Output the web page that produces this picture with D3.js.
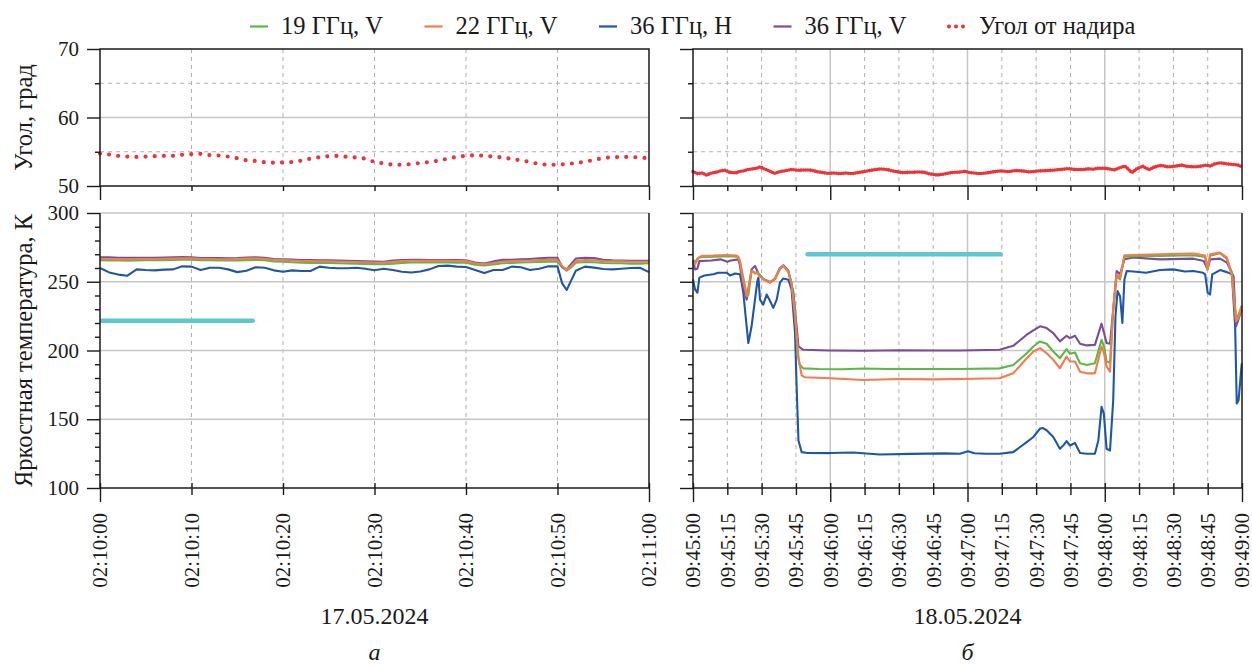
<!DOCTYPE html>
<html><head><meta charset="utf-8">
<script src="https://cdn.jsdelivr.net/npm/d3@7/dist/d3.min.js"></script>
<style>
body{margin:0;background:#fff;}
svg text{font-family:"Liberation Serif","Tinos","Times New Roman","Nimbus Roman","DejaVu Serif","Noto Serif",serif !important;fill:#1a1a1a;}
</style></head><body>
<svg id="chart" width="1252" height="666"></svg>
<script>
// ---------------- DATA ----------------
const seriesNames = ["19 ГГц, V", "22 ГГц, V", "36 ГГц, H", "36 ГГц, V"];
const angleName = "Угол от надира";
const yTitleAngle = "Угол, град";
const yTitleTemp = "Яркостная температура, К";
const dateLabels = ["17.05.2024", "18.05.2024"];
const panelLetters = ["а", "б"];
const angleTicks = [50, 60, 70];
const angleMinor = [55, 65];
const tempTicks = [100, 150, 200, 250, 300];
const tempMinor = [110,120,130,140,160,170,180,190,210,220,230,240,260,270,280,290];
const leftTickLabels = ["02:10:00","02:10:10","02:10:20","02:10:30","02:10:40","02:10:50","02:11:00"];
const rightTickLabels = ["09:45:00","09:45:15","09:45:30","09:45:45","09:46:00","09:46:15","09:46:30","09:46:45",
  "09:47:00","09:47:15","09:47:30","09:47:45","09:48:00","09:48:15","09:48:30","09:48:45","09:49:00"];

// left panel (seconds after 02:10:00)
const leftAngle = [54.73,54.6,54.4,54.3,54.25,54.3,54.35,54.4,54.4,54.55,54.65,54.7,54.5,54.45,54.3,54.05,53.75,53.65,53.45,53.4,
  53.45,53.5,53.7,54.0,54.2,54.35,54.4,54.25,54.15,54.0,53.5,53.3,53.1,53.1,53.2,53.35,53.5,53.7,54.0,54.25,
  54.4,54.5,54.4,54.3,54.15,53.95,53.75,53.5,53.2,53.1,53.1,53.2,53.35,53.55,53.8,54.1,54.2,54.25,54.25,54.15,54.05];
const leftT = [0,1,2,3,4,5,6,7,8,9,10,11,12,13,14,15,16,17,18,19,20,21,22,23,24,25,26,27,28,29,30,31,32,33,34,35,36,37,38,39,40,
  41,42,43,44,45,46,47,48,49,50,50.5,51,51.5,52,53,54,55,56,57,58,59,60];
const left19V = [265.6,265.5,265.4,265.4,265.5,265.6,265.6,265.7,265.8,266.0,266.0,265.7,265.6,265.5,265.4,265.5,265.7,265.9,265.6,264.8,
  264.5,264.2,263.8,263.7,263.6,263.6,263.4,263.3,263.1,262.9,262.8,262.7,263.2,263.7,264.0,264.1,264.0,264.0,264.0,263.9,263.8,
  262.4,261.8,262.5,263.4,263.7,264.0,264.2,264.4,264.6,264.5,260.5,258.0,260.5,263.8,264.4,264.2,263.6,263.5,263.4,263.2,263.2,263.4];
const left22V = [266.5,266.4,266.3,266.3,266.5,266.6,266.6,266.7,266.8,267.0,267.0,266.6,266.5,266.4,266.3,266.5,266.8,267.0,266.7,266.0,
  265.7,265.5,265.1,265.0,264.9,264.9,264.7,264.6,264.4,264.2,264.0,263.9,264.5,265.0,265.3,265.3,265.2,265.2,265.2,265.1,265.0,
  263.4,262.7,263.6,264.7,265.0,265.3,265.5,265.7,266.0,265.8,261.5,258.5,261.5,265.0,265.8,265.6,265.0,264.9,264.8,264.5,264.5,264.6];
const left36H = [260.0,256.8,255.2,254.4,259.0,258.5,258.3,258.8,259.0,261.2,261.0,258.5,260.2,260.2,259.0,257.0,258.0,260.5,260.2,258.3,
  257.3,258.3,257.8,257.8,261.0,260.2,259.8,259.8,260.2,259.5,258.3,259.5,258.6,257.3,256.7,257.5,259.0,261.5,261.7,261.0,260.7,
  258.5,256.3,258.5,258.5,261.0,260.5,258.5,259.5,261.2,261.2,249.0,244.0,251.0,258.0,261.0,260.3,259.3,259.0,259.5,260.0,260.2,257.0];
const left36V = [267.8,267.7,267.5,267.4,267.4,267.5,267.5,267.6,267.7,267.9,267.8,267.3,267.2,267.2,267.0,267.2,267.6,267.8,267.5,266.6,
  266.4,266.2,265.8,265.7,265.6,265.6,265.4,265.3,265.1,264.9,264.7,264.6,265.4,265.8,265.9,265.9,265.8,265.8,265.8,265.7,265.6,
  264.0,263.3,264.8,265.9,266.0,266.3,266.6,267.0,267.4,267.5,261.0,258.8,263.0,266.8,267.4,267.2,265.9,265.6,265.5,265.3,265.2,265.3];
const leftBarT = [0.2, 16.7];
const leftBarV = 221.7;

// right panel (seconds after 09:45:00)
const rightAngleT = [0,2,4,6,8,10,12,14,16,18.6,20,22,24,26,28,29.4,31,32,34,35.6,38,40,43,46,49.5,52,54,56,58.8,62,
  64,67,69.6,72,75,78,82,85,87,89,91.3,95,99,101,103,106.8,109,112,114,116,119,121,123,125.3,128,130,132,134.6,138,141,
  144,147,151,154.7,157,160,162,164,167,170.2,173,175,177,179.5,182,184.2,186,188.8,190.5,191.9,194,196.5,198,199.6,201.2,
  203,205,207,208.9,211,213.6,216,219.7,222,224.4,226,228,230.6,232,234,236,238.3,240];
const rightAngleV = [52.1,51.8,51.9,51.6,51.9,52.0,52.2,52.3,52.0,51.9,52.1,52.2,52.4,52.5,52.6,52.8,52.5,52.4,52.1,51.85,
  52.1,52.2,52.4,52.3,52.35,52.3,52.1,52.0,51.85,51.9,51.8,51.9,51.8,51.95,52.1,52.3,52.5,52.4,52.2,52.1,
  51.95,52.0,52.05,52.0,51.8,51.6,51.7,51.9,52.0,52.0,52.15,51.95,51.9,51.8,51.9,52.0,52.1,52.2,52.1,52.25,
  52.2,52.05,52.2,52.25,52.3,52.4,52.45,52.55,52.4,52.4,52.5,52.45,52.6,52.6,52.5,52.35,52.6,52.9,52.4,51.95,
  52.5,52.9,52.6,52.4,52.7,52.9,53.0,52.8,52.8,52.9,53.05,52.85,52.8,52.9,53.05,52.9,53.2,53.4,53.3,53.2,53.15,53.05,52.8];
const right19VT = [0,0.9,2,3.8,10,15,19.8,20.5,22,23.5,24.2,25.6,27.1,28.1,30.7,33.7,35.8,38,39.5,41.7,43.1,44.6,45.6,46.5,48.2,
  55,65,75,85,100,116.7,134,140,145.9,148.8,151.7,154.6,157.5,160.4,163.3,164.8,167,169.2,172.1,175.7,178.6,179.7,180.8,182.3,183.7,
  185.2,186.7,188.6,195,204.2,218.8,223.9,224.9,226.1,230.4,233.4,235.6,237.4,238.5,239.9];
const right19V = [266,264,267,268,268.2,268.5,268.3,265,253,240,240.5,258,256,257,252,249.5,252,259.5,261.5,257.5,249,228,200,190,187,
  186.6,186.4,186.9,186.6,186.5,186.6,187,189.5,198,202.9,206.6,204.9,199.3,194.4,201,197.6,198.5,190.7,189.5,190.7,207.8,202.9,192,191.2,229.8,
  254.1,251.7,268.3,268.8,268.8,269.3,268,259,269,270.7,266.5,256.6,222.4,226,232.7];
const right22VT = [0,0.9,2.5,3.8,8.9,14.7,19.1,20.5,22,23.5,25.6,28.1,30.7,33.7,35.8,38,39.5,41.7,43.1,44.6,46.1,47.5,49,60,74.5,
  90,105,116.7,134,140,145.9,148.8,151.7,154.6,157.5,160.4,163.3,164.8,167,169.2,172.1,175.7,178.6,179.7,180.8,182.3,183.7,185.2,186.7,188.6,
  204.2,218.8,223.9,224.9,226.1,230.4,233.4,235.6,237.4,238.5,239.9];
const right22V = [265.1,262.7,267.5,268.8,269,269.5,269,265,250,239.5,257.8,256,251.7,249.3,251.7,259,261.5,257,248,225,195,182,180.5,179.8,178.5,
  179.3,179,179.3,179.8,183.4,194.4,199.3,201.7,198,193.2,187.1,195.6,192,192,184.6,183.4,183.4,202.9,198,188.3,184.6,229.8,255.4,252.9,269.3,
  270,270.5,269,259,270,271.2,267.6,254,221.2,224,232.2];
const right36HT = [0,0.9,1.9,2.8,5,8.9,11,14.7,16.2,18.4,20.5,21.2,22,23,24.2,25.6,27.1,28.1,28.6,29.3,30.7,32.2,33.7,35.1,36.6,
  38,39.5,41.7,43.1,44.6,45.3,46.1,47.5,50,59.9,70,81.7,95,110,116.7,120.2,123,128,134,140,143,145.9,148.8,151.7,153,
  154.6,157.5,160.4,161.9,163.3,164.8,167,169.2,172.1,175.7,177.2,178.6,179.6,180.8,182.3,183.7,184.7,185.6,186.7,187.7,
  188.6,189.6,192.5,198,204.2,210,215,218.8,223,223.9,225,226,227,230.4,233.4,235.6,237,237.7,238.5,239.9];
const right36H = [251.7,244.4,242,253,254.5,255.4,256.5,256.6,254.5,256,255.4,250,242,225,205.4,217.6,237,250,253,237,
  233.4,240.7,236,231,237,249.3,252.4,251.5,244.4,212.7,173.7,134.6,126.1,125.5,125.4,125.8,124.4,124.8,125.2,124.9,
  126.8,125.3,124.9,124.9,126.1,129.8,133.4,137.1,143.2,143.6,142,137.1,128.5,131,134.1,130.9,132.7,125.4,124.9,124.9,
  134.6,159,154.1,128.5,127.3,163.9,224.9,243.2,239.5,220,251.7,257.8,257.5,256.5,258.5,259,257.5,257.8,256.5,255.4,
  242,240.7,255.4,258.5,257,255.4,217.6,161.5,163.9,190.7];
const right36VT = [0,0.9,1.9,2.8,8,12,15,16.5,19.8,20.5,22,23.5,25.6,27.1,28.6,30.7,33.7,35.8,38,39.5,41.7,43.9,46.1,48.2,60,
  75,90,105,116.7,134,140,145.9,148.8,151.7,154.6,157.5,160.4,163.3,164.8,167,169.2,172.1,175.7,178.6,179.7,180.8,182.3,183.7,185.2,186.7,
  188.6,192.5,204.2,218.8,223.3,224.9,226.1,230.4,233.4,234.8,236.3,237.4,239.9];
const right36V = [265.1,259,259.5,265,265.5,266.3,264.5,265.5,266.3,262,245,237,259,261.5,256,252,249.8,252,260,262,258,242,203,200.5,200,
  199.8,200.2,200,200,200.5,203.4,211.5,214.6,217.6,216.3,212.7,206.6,210.7,209,210.7,204.9,203.7,204.1,219.5,212.7,205.4,204.9,229.8,257.8,255.4,
  266.3,267.6,266.3,266.8,265.1,259,266.3,266.8,263.9,259,254.1,217.6,229.8];
const rightBarT = [50.1, 134.5];
const rightBarV = 270;

// ---------------- DRAWING ----------------
const FONT = '"Liberation Serif","Tinos","Times New Roman","Nimbus Roman","DejaVu Serif","Noto Serif",serif';
const INK = "#1a1a1a";
const C = {g:"#5bb946", o:"#f47b4c", b:"#1f57a7", p:"#7a4c9f", r:"#ee3237", c:"#5ec6d5"};
const GRID_S = "#c6c6c6", GRID_D = "#b0b0b0";

const svg = d3.select("#chart");
const PL = {x0:100, x1:649}, PR = {x0:693, x1:1242};
const TOP = {y0:49, y1:186}, BOT = {y0:213, y1:488};

const xL = d3.scaleLinear().domain([0,60]).range([PL.x0, PL.x1]);
const xR = d3.scaleLinear().domain([0,240]).range([PR.x0, PR.x1]);
const yA = d3.scaleLinear().domain([50,70]).range([TOP.y1, TOP.y0]);
const yT = d3.scaleLinear().domain([100,300]).range([BOT.y1, BOT.y0]);

const leftLabTicks = d3.range(0, 61, 10);
const rightLabTicks = d3.range(0, 241, 15);
const leftMajor = [0, 60], rightMajor = [0, 60, 120, 180, 240];
const leftMinorX = leftLabTicks.filter(d => !leftMajor.includes(d));
const rightMinorX = rightLabTicks.filter(d => !rightMajor.includes(d));

function hline(g, y, x0, x1, stroke, w, dash) {
  g.append("line").attr("x1", x0).attr("x2", x1).attr("y1", y).attr("y2", y)
    .attr("stroke", stroke).attr("stroke-width", w).attr("stroke-dasharray", dash || null);
}
function vline(g, x, y0, y1, stroke, w, dash) {
  g.append("line").attr("x1", x).attr("x2", x).attr("y1", y0).attr("y2", y1)
    .attr("stroke", stroke).attr("stroke-width", w).attr("stroke-dasharray", dash || null);
}

function drawGrid(g, x, y, P, Y, vSolid, vDash, hSolid, hDash) {
  vDash.forEach(d => vline(g, x(d), Y.y0, Y.y1, GRID_D, 1, "4,4"));
  vSolid.forEach(d => vline(g, x(d), Y.y0, Y.y1, GRID_S, 1.5));
  hDash.forEach(d => hline(g, y(d), P.x0, P.x1, GRID_D, 1, "4,4"));
  hSolid.forEach(d => hline(g, y(d), P.x0, P.x1, GRID_S, 1.5));
}

function styleAxis(a) {
  a.select(".domain").remove();
  a.attr("font-family", FONT).attr("font-size", 21);
  a.selectAll("line").attr("stroke", INK).attr("stroke-width", 1.4);
  a.selectAll("text").attr("fill", INK).style("font-family", FONT);
}

function yAxis(g, y, x0, majors, minors, withLabels) {
  const a = g.append("g").attr("transform", `translate(${x0},0)`)
    .call(d3.axisLeft(y).tickValues(majors).tickSize(13).tickPadding(8)
      .tickFormat(d => withLabels ? String(d) : ""));
  styleAxis(a);
  const b = g.append("g").attr("transform", `translate(${x0},0)`)
    .call(d3.axisLeft(y).tickValues(minors).tickSize(5).tickFormat(""));
  styleAxis(b);
}

function xAxisTop(g, x, yb, majors, minors) {
  const a = g.append("g").attr("transform", `translate(0,${yb})`)
    .call(d3.axisBottom(x).tickValues(majors).tickSize(14).tickFormat(""));
  styleAxis(a);
  const b = g.append("g").attr("transform", `translate(0,${yb})`)
    .call(d3.axisBottom(x).tickValues(minors).tickSize(5).tickFormat(""));
  styleAxis(b);
}

function xAxisBottom(g, x, yb, majors, minors, labTicks, labels) {
  const a = g.append("g").attr("transform", `translate(0,${yb})`)
    .call(d3.axisBottom(x).tickValues(majors).tickSize(14).tickFormat(""));
  styleAxis(a); a.selectAll("line").attr("y1", -5);
  const b = g.append("g").attr("transform", `translate(0,${yb})`)
    .call(d3.axisBottom(x).tickValues(minors).tickSize(7).tickFormat(""));
  styleAxis(b); b.selectAll("line").attr("y1", -5);
  const c = g.append("g").attr("transform", `translate(0,${yb})`)
    .call(d3.axisBottom(x).tickValues(labTicks).tickSize(0).tickFormat((d, i) => labels[i]));
  styleAxis(c);
  c.selectAll("line").remove();
  c.selectAll("text").attr("x", 0).attr("y", 0).attr("dy", "0.33em")
    .attr("transform", "translate(0,25) rotate(-90)").attr("text-anchor", "end");
}

function series(g, x, y, T, V, color, w) {
  g.append("path").datum(d3.zip(T, V))
    .attr("d", d3.line().x(d => x(d[0])).y(d => y(d[1])))
    .attr("fill", "none").attr("stroke", color).attr("stroke-width", w || 2.1)
    .attr("stroke-linejoin", "round");
}
function dotted(g, x, y, T, V, gap, w) {
  g.append("path").datum(d3.zip(T, V))
    .attr("d", d3.line().x(d => x(d[0])).y(d => y(d[1])))
    .attr("fill", "none").attr("stroke", C.r).attr("stroke-width", w)
    .attr("stroke-linecap", "round").attr("stroke-dasharray", `0 ${gap}`);
}
function bar(g, x, y, T, v) {
  g.append("line").attr("x1", x(T[0])).attr("x2", x(T[1])).attr("y1", y(v)).attr("y2", y(v))
    .attr("stroke", C.c).attr("stroke-width", 4.5).attr("stroke-linecap", "round");
}

const G = svg.append("g");

// ---- grids
drawGrid(G, xL, yA, PL, TOP, [], leftMinorX, [60], [55, 65]);
drawGrid(G, xR, yA, PR, TOP, [60, 120, 180], rightMinorX, [60], [55, 65]);
drawGrid(G, xL, yT, PL, BOT, [], leftMinorX, [150, 200, 250, 300], []);
drawGrid(G, xR, yT, PR, BOT, [60, 120, 180], rightMinorX, [150, 200, 250, 300], []);

// ---- bars
bar(G, xL, yT, leftBarT, leftBarV);
bar(G, xR, yT, rightBarT, rightBarV);

// ---- data
const leftSeries = [left19V, left36V, left36H, left22V];
const leftColors = [C.g, C.p, C.b, C.o];
leftSeries.forEach((v, i) => series(G, xL, yT, leftT, v, leftColors[i]));
series(G, xR, yT, right36HT, right36H, C.b);
series(G, xR, yT, right36VT, right36V, C.p);
series(G, xR, yT, right19VT, right19V, C.g);
series(G, xR, yT, right22VT, right22V, C.o);

dotted(G, xL, yA, d3.range(leftAngle.length), leftAngle, 9.15, 4.2);
dotted(G, xR, yA, rightAngleT, rightAngleV, 2.4, 3.6);

// ---- frames
[PL, PR].forEach(P => {
  G.append("rect").attr("x", P.x0).attr("y", TOP.y0).attr("width", P.x1 - P.x0).attr("height", TOP.y1 - TOP.y0)
    .attr("fill", "none").attr("stroke", INK).attr("stroke-width", 1.5);
  vline(G, P.x0, BOT.y0, BOT.y1, INK, 1.5);
  vline(G, P.x1, BOT.y0, BOT.y1, INK, 1.5);
  hline(G, BOT.y1, P.x0, P.x1, INK, 1.5);
});

// ---- axes
yAxis(G, yA, PL.x0, angleTicks, angleMinor, true);
yAxis(G, yA, PR.x0, angleTicks, angleMinor, false);
yAxis(G, yT, PL.x0, tempTicks, tempMinor, true);
yAxis(G, yT, PR.x0, tempTicks, tempMinor, false);
xAxisTop(G, xL, TOP.y1, leftMajor, leftMinorX);
xAxisTop(G, xR, TOP.y1, rightMajor, rightMinorX);
xAxisBottom(G, xL, BOT.y1, leftMajor, leftMinorX, leftLabTicks, leftTickLabels);
xAxisBottom(G, xR, BOT.y1, rightMajor, rightMinorX, rightLabTicks, rightTickLabels);

// ---- titles
G.append("text").attr("transform", `translate(32,${(TOP.y0 + TOP.y1) / 2}) rotate(-90)`)
  .attr("text-anchor", "middle").attr("font-size", 24.5).style("font-family", FONT).text(yTitleAngle);
G.append("text").attr("transform", `translate(32,${(BOT.y0 + BOT.y1) / 2}) rotate(-90)`)
  .attr("text-anchor", "middle").attr("font-size", 24.5).style("font-family", FONT).text(yTitleTemp);

[PL, PR].forEach((P, i) => {
  const cx = (P.x0 + P.x1) / 2;
  G.append("text").attr("x", cx).attr("y", 624).attr("text-anchor", "middle")
    .attr("font-size", 24).style("font-family", FONT).text(dateLabels[i]);
  G.append("text").attr("x", cx).attr("y", 660).attr("text-anchor", "middle")
    .attr("font-size", 24).attr("font-style", "italic").style("font-family", FONT).text(panelLetters[i]);
});

// ---- legend
const legendItems = seriesNames.map((n, i) => ({name: n, color: [C.g, C.o, C.b, C.p][i], dots: false}))
  .concat([{name: angleName, color: C.r, dots: true}]);
const lx = d3.scaleLinear().domain([0, 1]).range([250, 424.5]);
legendItems.forEach((it, i) => {
  const x0 = lx(i);
  const ln = G.append("line").attr("x1", x0 + (it.dots ? 1 : 0)).attr("x2", x0 + 18).attr("y1", 26.5).attr("y2", 26.5)
    .attr("stroke", it.color);
  if (it.dots) ln.attr("stroke-width", 4).attr("stroke-linecap", "round").attr("stroke-dasharray", "0 7");
  else ln.attr("stroke-width", 2.2);
  G.append("text").attr("x", x0 + 31).attr("y", 34).attr("font-size", 24.5).style("font-family", FONT).text(it.name);
});
</script>
</body></html>
